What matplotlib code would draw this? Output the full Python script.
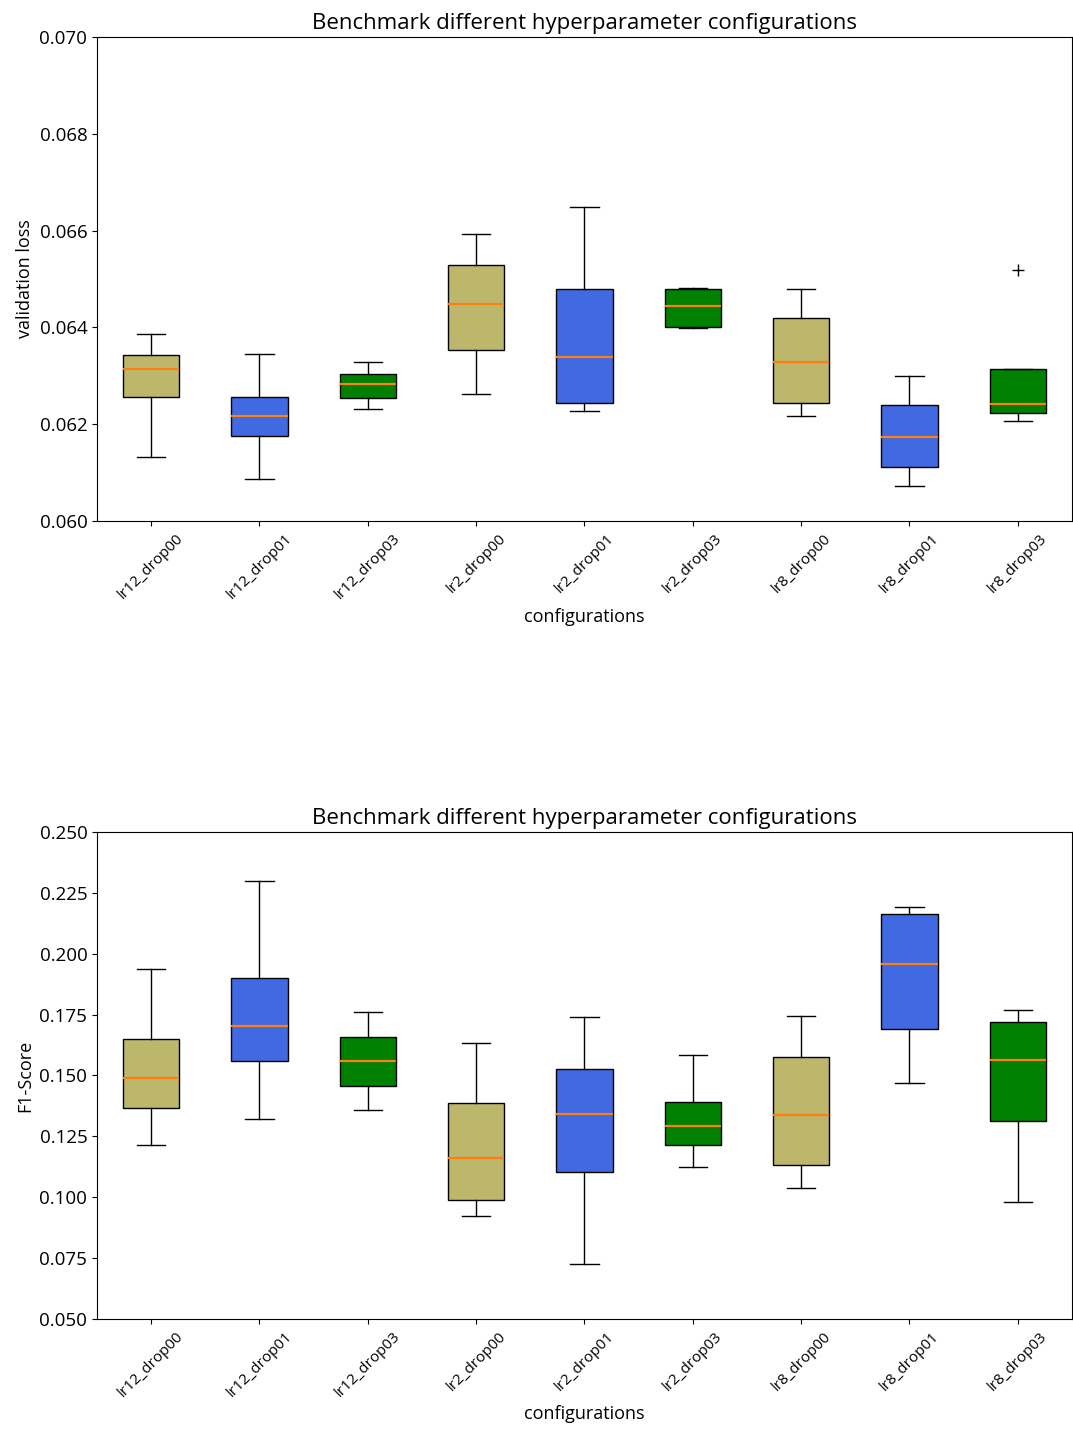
import matplotlib

matplotlib.use("Agg")

import matplotlib.pyplot as plt  # noqa: E402

plt.rcParams["font.family"] = ["Open Sans", "DejaVu Sans"]

configs = [
    "lr12_drop00", "lr12_drop01", "lr12_drop03",
    "lr2_drop00", "lr2_drop01", "lr2_drop03",
    "lr8_drop00", "lr8_drop01", "lr8_drop03",
]
box_colors = ["darkkhaki", "royalblue", "green"] * 3

# (whislo, q1, med, q3, whishi)
loss_stats = [
    (0.06132, 0.06256, 0.06314, 0.06343, 0.06386),
    (0.06087, 0.06176, 0.06217, 0.06256, 0.06345),
    (0.06231, 0.06254, 0.06283, 0.06304, 0.06329),
    (0.06262, 0.06353, 0.06448, 0.06529, 0.06593),
    (0.06227, 0.06244, 0.06339, 0.06479, 0.06649),
    (0.06399, 0.06401, 0.06444, 0.06479, 0.06481),
    (0.06217, 0.06244, 0.06329, 0.06419, 0.06479),
    (0.06072, 0.06112, 0.06174, 0.06240, 0.06300),
    (0.06207, 0.06223, 0.06242, 0.06314, 0.06314),
]
loss_fliers = [[], [], [], [], [], [], [], [], [0.06519]]

f1_stats = [
    (0.1215, 0.1367, 0.1490, 0.1650, 0.1937),
    (0.1321, 0.1560, 0.1703, 0.1900, 0.2299),
    (0.1358, 0.1457, 0.1560, 0.1658, 0.1761),
    (0.0923, 0.0989, 0.1161, 0.1387, 0.1633),
    (0.0726, 0.1104, 0.1342, 0.1527, 0.1740),
    (0.1124, 0.1215, 0.1293, 0.1391, 0.1584),
    (0.1038, 0.1132, 0.1338, 0.1576, 0.1744),
    (0.1469, 0.1691, 0.1958, 0.2163, 0.2192),
    (0.0980, 0.1313, 0.1564, 0.1720, 0.1769),
]
f1_fliers = [[] for _ in configs]


def to_bxp(stats, fliers):
    out = []
    for (lo, q1, med, q3, hi), fl in zip(stats, fliers):
        out.append(dict(whislo=lo, q1=q1, med=med, q3=q3, whishi=hi, fliers=fl))
    return out


def draw(ax, stats, fliers, ylabel, ylim, yticks):
    bp = ax.bxp(to_bxp(stats, fliers), patch_artist=True, showfliers=True,
                widths=0.52,
                flierprops=dict(marker="+", markeredgecolor="black", markersize=9))
    for patch, c in zip(bp["boxes"], box_colors):
        patch.set_facecolor(c)
        patch.set_edgecolor("black")
    for m in bp["medians"]:
        m.set_color("#ff7f0e")
        m.set_linewidth(1.6)
    ax.set_xticks(range(1, len(configs) + 1))
    ax.set_xticklabels(configs, rotation=45, fontsize=11)
    ax.tick_params(axis="y", labelsize=13.5)
    ax.set_ylim(*ylim)
    ax.set_yticks(yticks)
    ax.yaxis.set_major_formatter(matplotlib.ticker.FormatStrFormatter("%.3f"))
    ax.set_xlabel("configurations", fontsize=13)
    ax.set_ylabel(ylabel, fontsize=13)
    ax.set_title("Benchmark different hyperparameter configurations", fontsize=16)


fig = plt.figure(figsize=(10.73, 14.29), dpi=100)
ax1 = fig.add_axes([0.0904, 0.6354, 0.9086, 0.3387])
ax2 = fig.add_axes([0.0904, 0.0770, 0.9086, 0.3408])

draw(ax1, loss_stats, loss_fliers, "validation loss", (0.060, 0.070),
     [0.060, 0.062, 0.064, 0.066, 0.068, 0.070])
draw(ax2, f1_stats, f1_fliers, "F1-Score", (0.050, 0.250),
     [0.050, 0.075, 0.100, 0.125, 0.150, 0.175, 0.200, 0.225, 0.250])

fig.savefig("out.png", dpi=100)
plt.close(fig)
